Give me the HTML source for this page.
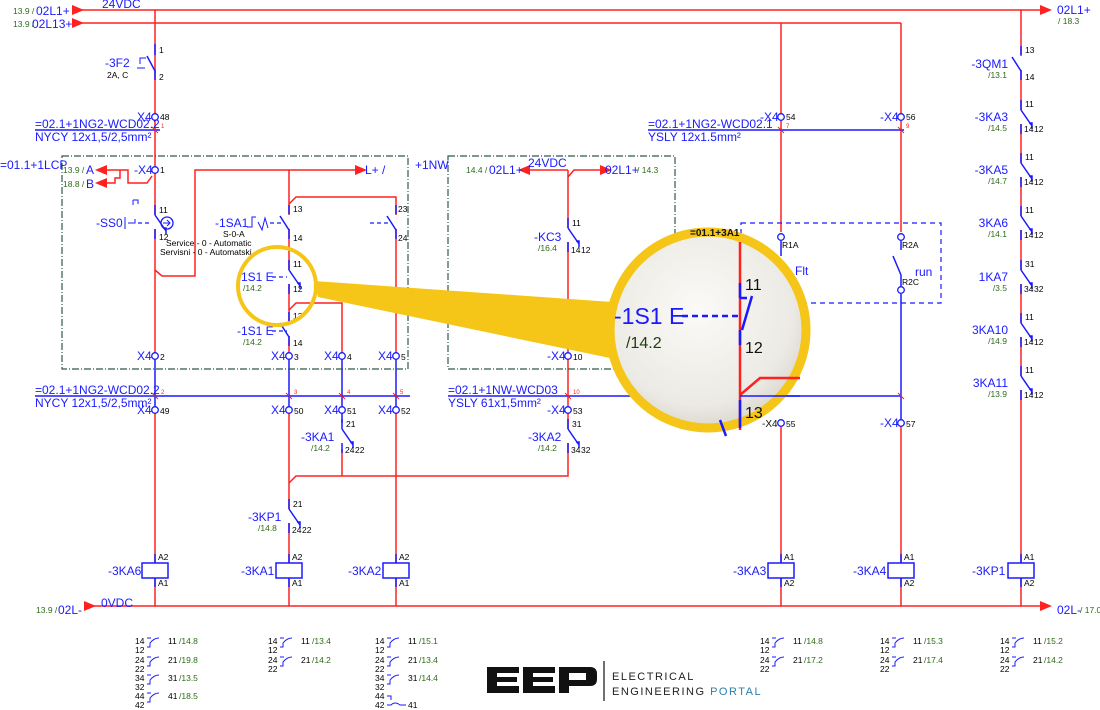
<!DOCTYPE html>
<html><head><meta charset="utf-8"><style>
html,body{margin:0;padding:0;background:#fff;}
svg{display:block;font-family:"Liberation Sans",sans-serif;}
.b{fill:#1a1aff;font-size:12px;}
.k{fill:#000;font-size:8.5px;}
.g{fill:#2e6b1a;font-size:8.5px;}
.r{fill:#ff2020;font-size:6px;}
</style></head><body>
<svg width="1100" height="710" viewBox="0 0 1100 710" xmlns="http://www.w3.org/2000/svg">
<defs>
<g id="nc" fill="none"><path d="M0,10V24" stroke="#fff" stroke-width="4"/><path d="M0,0V10M0,10L11,26M8,23H11V29M0,24V34" stroke="#1a1aff" stroke-width="1.5"/></g>
<g id="no" fill="none"><path d="M0,10V24" stroke="#fff" stroke-width="4"/><path d="M0,0V9M-9,11L0,25M0,24V34" stroke="#1a1aff" stroke-width="1.5"/></g>
<g id="coil"><rect x="-13" y="0" width="26" height="15" fill="#fff" stroke="#1a1aff" stroke-width="1.5"/><path d="M0,-9V0M0,15V24" stroke="#1a1aff" stroke-width="1.5"/></g>
<g id="term"><circle r="3.3" fill="#fff" stroke="#1a1aff" stroke-width="1.3"/></g>
<g id="sym" fill="none" stroke="#1a1aff" stroke-width="1"><path d="M12,-3H16M12,6H15V2Q19,-3 24,-3"/></g>
<radialGradient id="mg" cx="45%" cy="40%" r="60%"><stop offset="0" stop-color="#fbfaf7"/><stop offset="0.8" stop-color="#eceae4"/><stop offset="1" stop-color="#dcd9d0"/></radialGradient>
</defs>

<g stroke="#ff2020" stroke-width="1.5" fill="none">
<path d="M80,10H1040"/><path d="M80,23H901"/>
<path d="M155,10V356"/><path d="M1021,10V606"/>
<path d="M781,23V232"/><path d="M901,23V232"/>
<path d="M152,176L147,183H128V170H107M120,170V178H115V183H107"/>
<path d="M155,270L162,276H195V170H362"/>
<path d="M289,170V356"/><path d="M289,204L296,197H396V356"/>
<path d="M289,310L296,303H342V356"/>
<path d="M155,410V606"/><path d="M289,410V606"/><path d="M396,410V606"/>
<path d="M342,449V476"/><path d="M289,483L296,476H568V170"/>
<path d="M781,423V606"/><path d="M901,423V606"/>
<path d="M85,606H1040"/>
<path d="M568,177L574,170H600"/><path d="M530,170H568"/>
</g>
<g fill="#ff2020">
<path d="M72,5L84,10L72,15Z"/><path d="M72,18L84,23L72,28Z"/>
<path d="M1040,5L1052,10L1040,15Z"/><path d="M1040,601L1052,606L1040,611Z"/>
<path d="M84,601L96,606L84,611Z"/>
<path d="M107,165L95,170L107,175Z"/><path d="M107,178L95,183L107,188Z"/>
<path d="M355,165L367,170L355,175Z"/>
<path d="M530,165L518,170L530,175Z"/><path d="M600,165L612,170L600,175Z"/>
</g>
<g stroke="#1a1aff" stroke-width="1.5" fill="none">
<path d="M35,130H160"/><path d="M648,130H904"/>
<path d="M35,396H410"/><path d="M448,396H570"/><path d="M570,396H901"/>
<path d="M155,356V410M289,356V410M342,356V423M396,356V410"/>
<path d="M901,294V423"/><path d="M781,241V256"/>
<path d="M901,241V250M893,256L901,275M901,275V286"/>
<path d="M155,44V55M147,56L155,71M155,70V80"/>
<path d="M140,64V58H146M137,68H145" stroke-width="1"/>
</g>
<g stroke="#ff2020" stroke-width="1"><path d="M152,127L158,133M286,393L292,399M339,393L345,399M393,393L399,399M152,393L158,399M565,393L571,399M778,127L784,133M898,127L904,133M898,393L904,399"/></g>
<rect x="62" y="156" width="346" height="213" fill="none" stroke="#2f5a4a" stroke-width="1.2" stroke-dasharray="7 2 1 2"/>
<rect x="448" y="156" width="227" height="213" fill="none" stroke="#2f5a4a" stroke-width="1.2" stroke-dasharray="7 2 1 2"/>
<rect x="741" y="223" width="200" height="80" fill="none" stroke="#1a1aff" stroke-width="1.2" stroke-dasharray="5 4"/>

<use href="#nc" x="155" y="205"/>
<use href="#no" x="289" y="205"/><use href="#no" x="396" y="205"/>
<use href="#nc" x="289" y="260"/><use href="#no" x="289" y="312"/>
<use href="#nc" x="342" y="419"/><use href="#nc" x="289" y="499"/>
<use href="#nc" x="568" y="218"/><use href="#nc" x="568" y="419"/>
<use href="#no" x="1021" y="46"/>
<use href="#nc" x="1021" y="100"/><use href="#nc" x="1021" y="153"/><use href="#nc" x="1021" y="206"/>
<use href="#nc" x="1021" y="260"/><use href="#nc" x="1021" y="313"/><use href="#nc" x="1021" y="366"/>
<g stroke="#1a1aff" stroke-width="1.2" fill="none" stroke-dasharray="4 3"><path d="M138,223H152M270,223H284M370,223H392M272,277H287M272,331H287"/></g>
<circle cx="167" cy="223" r="6" fill="none" stroke="#1a1aff" stroke-width="1.3"/><path d="M163,223H170M167,220L170,223L167,226" stroke="#1a1aff" fill="none"/>
<path d="M125,217V229M128,223H135V219M133,200V205M133,200H138V204" stroke="#1a1aff" fill="none"/>
<path d="M247,227H252V217H256M258,222L262,230L265,218L268,228" stroke="#1a1aff" fill="none"/>

<g>
<use href="#term" x="155" y="117"/><use href="#term" x="155" y="170"/>
<use href="#term" x="155" y="356"/><use href="#term" x="289" y="356"/><use href="#term" x="342" y="356"/><use href="#term" x="396" y="356"/>
<use href="#term" x="155" y="410"/><use href="#term" x="289" y="410"/><use href="#term" x="342" y="410"/><use href="#term" x="396" y="410"/>
<use href="#term" x="568" y="356"/><use href="#term" x="568" y="410"/>
<use href="#term" x="781" y="117"/><use href="#term" x="901" y="117"/>
<use href="#term" x="781" y="237"/><use href="#term" x="901" y="237"/><use href="#term" x="901" y="290"/>
<use href="#term" x="781" y="423"/><use href="#term" x="901" y="423"/>
</g>
<use href="#coil" x="155" y="563"/><use href="#coil" x="289" y="563"/><use href="#coil" x="396" y="563"/>
<use href="#coil" x="781" y="563"/><use href="#coil" x="901" y="563"/><use href="#coil" x="1021" y="563"/>

<text x="13" y="14" class="g">13.9 /</text><text x="36" y="15" class="b">02L1+</text>
<text x="13" y="27" class="g">13.9 /</text><text x="32" y="28" class="b">02L13+</text>
<text x="102" y="8" class="b">24VDC</text>
<text x="1057" y="14" class="b">02L1+</text><text x="1058" y="24" class="g">/ 18.3</text>
<text x="159" y="53" class="k">1</text><text x="159" y="80" class="k">2</text>
<text x="105" y="67" class="b">-3F2</text><text x="107" y="78" class="k">2A, C</text>
<text x="137" y="121" class="b">X4</text><text x="160" y="120" class="k">48</text><text x="161" y="128" class="r">1</text>
<text x="35" y="128" class="b">=02.1+1NG2-WCD02.2</text><text x="35" y="141" class="b">NYCY 12x1,5/2,5mm²</text>
<text x="0" y="169" class="b">=01.1+1LCP</text><text x="415" y="169" class="b">+1NW</text>
<text x="63" y="173" class="g">13.9 /</text><text x="86" y="174" class="b">A</text>
<text x="63" y="187" class="g">18.8 /</text><text x="86" y="188" class="b">B</text>
<text x="134" y="174" class="b">-X4</text><text x="160" y="173" class="k">1</text>
<text x="365" y="174" class="b">L+ /</text>
<text x="159" y="213" class="k">11</text><text x="159" y="240" class="k">12</text>
<text x="96" y="227" class="b">-SS0</text>
<text x="215" y="227" class="b">-1SA1</text><text x="223" y="237" class="k">S-0-A</text>
<text x="166" y="246" class="k">Service - 0 - Automatic</text><text x="160" y="255" class="k">Servisni - 0 - Automatski</text>
<text x="293" y="212" class="k">13</text><text x="293" y="241" class="k">14</text>
<text x="398" y="212" class="k">23</text><text x="398" y="241" class="k">24</text>
<text x="293" y="267" class="k">11</text><text x="293" y="292" class="k">12</text>
<text x="293" y="319" class="k">13</text><text x="293" y="346" class="k">14</text>
<text x="237" y="281" class="b">-1S1 E</text><text x="243" y="291" class="g">/14.2</text>
<text x="237" y="335" class="b">-1S1 E</text><text x="243" y="345" class="g">/14.2</text>
<text x="137" y="360" class="b">X4</text><text x="160" y="360" class="k">2</text>
<text x="271" y="360" class="b">X4</text><text x="294" y="360" class="k">3</text>
<text x="324" y="360" class="b">X4</text><text x="347" y="360" class="k">4</text>
<text x="378" y="360" class="b">X4</text><text x="401" y="360" class="k">5</text>
<text x="35" y="394" class="b">=02.1+1NG2-WCD02.2</text><text x="35" y="407" class="b">NYCY 12x1,5/2,5mm²</text>
<text x="161" y="394" class="r">2</text><text x="294" y="394" class="r">3</text><text x="347" y="394" class="r">4</text><text x="400" y="394" class="r">5</text>
<text x="137" y="414" class="b">X4</text><text x="160" y="414" class="k">49</text>
<text x="271" y="414" class="b">X4</text><text x="294" y="414" class="k">50</text>
<text x="324" y="414" class="b">X4</text><text x="347" y="414" class="k">51</text>
<text x="378" y="414" class="b">X4</text><text x="401" y="414" class="k">52</text>
<text x="346" y="427" class="k">21</text><text x="345" y="453" class="k">24</text><text x="355" y="453" class="k">22</text>
<text x="301" y="441" class="b">-3KA1</text><text x="311" y="451" class="g">/14.2</text>
<text x="293" y="507" class="k">21</text><text x="292" y="533" class="k">24</text><text x="302" y="533" class="k">22</text>
<text x="248" y="521" class="b">-3KP1</text><text x="258" y="531" class="g">/14.8</text>
<text x="158" y="560" class="k">A2</text><text x="158" y="586" class="k">A1</text><text x="108" y="575" class="b">-3KA6</text>
<text x="292" y="560" class="k">A2</text><text x="292" y="586" class="k">A1</text><text x="241" y="575" class="b">-3KA1</text>
<text x="399" y="560" class="k">A2</text><text x="399" y="586" class="k">A1</text><text x="348" y="575" class="b">-3KA2</text>
<text x="36" y="613" class="g">13.9 /</text><text x="58" y="614" class="b">02L-</text><text x="101" y="607" class="b">0VDC</text>
<text x="1057" y="614" class="b">02L-</text><text x="1080" y="613" class="g">/ 17.0</text>
<text x="466" y="173" class="g">14.4 /</text><text x="489" y="174" class="b">02L1+</text>
<text x="528" y="167" class="b">24VDC</text>
<text x="605" y="174" class="b">02L1+</text><text x="637" y="173" class="g">/ 14.3</text>
<text x="572" y="226" class="k">11</text><text x="571" y="253" class="k">14</text><text x="581" y="253" class="k">12</text>
<text x="534" y="241" class="b">-KC3</text><text x="538" y="251" class="g">/16.4</text>
<text x="547" y="360" class="b">-X4</text><text x="573" y="360" class="k">10</text>
<text x="448" y="394" class="b">=02.1+1NW-WCD03</text><text x="448" y="407" class="b">YSLY 61x1,5mm²</text><text x="573" y="394" class="r">10</text>
<text x="547" y="414" class="b">-X4</text><text x="573" y="414" class="k">53</text>
<text x="572" y="427" class="k">31</text><text x="571" y="453" class="k">34</text><text x="581" y="453" class="k">32</text>
<text x="528" y="441" class="b">-3KA2</text><text x="538" y="451" class="g">/14.2</text>
<text x="648" y="128" class="b">=02.1+1NG2-WCD02.1</text><text x="648" y="141" class="b">YSLY 12x1.5mm²</text>
<text x="760" y="121" class="b">-X4</text><text x="786" y="120" class="k">54</text><text x="786" y="128" class="r">7</text>
<text x="880" y="121" class="b">-X4</text><text x="906" y="120" class="k">56</text><text x="906" y="128" class="r">9</text>
<text x="782" y="248" class="k">R1A</text><text x="902" y="248" class="k">R2A</text><text x="902" y="285" class="k">R2C</text>
<text x="795" y="275" class="b">Flt</text><text x="915" y="276" class="b">run</text>
<text x="880" y="427" class="b">-X4</text><text x="906" y="427" class="k">57</text>
<text x="784" y="560" class="k">A1</text><text x="784" y="586" class="k">A2</text><text x="733" y="575" class="b">-3KA3</text>
<text x="904" y="560" class="k">A1</text><text x="904" y="586" class="k">A2</text><text x="853" y="575" class="b">-3KA4</text>
<text x="1024" y="560" class="k">A1</text><text x="1024" y="586" class="k">A2</text><text x="972" y="575" class="b">-3KP1</text>
<g text-anchor="end">
<text x="1008" y="68" class="b">-3QM1</text><text x="1007" y="78" class="g">/13.1</text>
<text x="1008" y="121" class="b">-3KA3</text><text x="1007" y="131" class="g">/14.5</text>
<text x="1008" y="174" class="b">-3KA5</text><text x="1007" y="184" class="g">/14.7</text>
<text x="1008" y="227" class="b">3KA6</text><text x="1007" y="237" class="g">/14.1</text>
<text x="1008" y="281" class="b">1KA7</text><text x="1007" y="291" class="g">/3.5</text>
<text x="1008" y="334" class="b">3KA10</text><text x="1007" y="344" class="g">/14.9</text>
<text x="1008" y="387" class="b">3KA11</text><text x="1007" y="397" class="g">/13.9</text>
</g>
<g class="k">
<text x="1025" y="53">13</text><text x="1025" y="80">14</text>
<text x="1025" y="107">11</text><text x="1024" y="132">14</text><text x="1034" y="132">12</text>
<text x="1025" y="160">11</text><text x="1024" y="185">14</text><text x="1034" y="185">12</text>
<text x="1025" y="213">11</text><text x="1024" y="238">14</text><text x="1034" y="238">12</text>
<text x="1025" y="267">31</text><text x="1024" y="292">34</text><text x="1034" y="292">32</text>
<text x="1025" y="320">11</text><text x="1024" y="345">14</text><text x="1034" y="345">12</text>
<text x="1025" y="373">11</text><text x="1024" y="398">14</text><text x="1034" y="398">12</text>
</g>

<g class="k">
<text x="135" y="644">14</text><text x="135" y="653">12</text><text x="135" y="663">24</text><text x="135" y="672">22</text>
<text x="135" y="681">34</text><text x="135" y="690">32</text><text x="135" y="699">44</text><text x="135" y="708">42</text>
<text x="168" y="644">11</text><text x="168" y="663">21</text><text x="168" y="681">31</text><text x="168" y="699">41</text>
<text x="268" y="644">14</text><text x="268" y="653">12</text><text x="268" y="663">24</text><text x="268" y="672">22</text>
<text x="301" y="644">11</text><text x="301" y="663">21</text>
<text x="375" y="644">14</text><text x="375" y="653">12</text><text x="375" y="663">24</text><text x="375" y="672">22</text>
<text x="375" y="681">34</text><text x="375" y="690">32</text><text x="375" y="699">44</text><text x="375" y="708">42</text>
<text x="408" y="644">11</text><text x="408" y="663">21</text><text x="408" y="681">31</text><text x="408" y="708">41</text>
<text x="760" y="644">14</text><text x="760" y="653">12</text><text x="760" y="663">24</text><text x="760" y="672">22</text>
<text x="793" y="644">11</text><text x="793" y="663">21</text>
<text x="880" y="644">14</text><text x="880" y="653">12</text><text x="880" y="663">24</text><text x="880" y="672">22</text>
<text x="913" y="644">11</text><text x="913" y="663">21</text>
<text x="1000" y="644">14</text><text x="1000" y="653">12</text><text x="1000" y="663">24</text><text x="1000" y="672">22</text>
<text x="1033" y="644">11</text><text x="1033" y="663">21</text>
</g>
<g class="g">
<text x="179" y="644">/14.8</text><text x="179" y="663">/19.8</text><text x="179" y="681">/13.5</text><text x="179" y="699">/18.5</text>
<text x="312" y="644">/13.4</text><text x="312" y="663">/14.2</text>
<text x="419" y="644">/15.1</text><text x="419" y="663">/13.4</text><text x="419" y="681">/14.4</text>
<text x="804" y="644">/14.8</text><text x="804" y="663">/17.2</text>
<text x="924" y="644">/15.3</text><text x="924" y="663">/17.4</text>
<text x="1044" y="644">/15.2</text><text x="1044" y="663">/14.2</text>
</g>
<g>
<use href="#sym" x="135" y="641"/><use href="#sym" x="135" y="660"/><use href="#sym" x="135" y="678"/><use href="#sym" x="135" y="696"/>
<use href="#sym" x="268" y="641"/><use href="#sym" x="268" y="660"/>
<use href="#sym" x="375" y="641"/><use href="#sym" x="375" y="660"/><use href="#sym" x="375" y="678"/>
<use href="#sym" x="760" y="641"/><use href="#sym" x="760" y="660"/>
<use href="#sym" x="880" y="641"/><use href="#sym" x="880" y="660"/>
<use href="#sym" x="1000" y="641"/><use href="#sym" x="1000" y="660"/>
</g>
<path d="M387,696H391V700M387,705H391Q395,701 400,705H406" stroke="#1a1aff" fill="none"/>

<g fill="#111">
<path d="M487,667H519V673H497V677H517V682H497V686H519V693H487Z"/>
<path d="M523,667H555V673H533V677H553V682H533V686H555V693H523Z"/>
<path d="M559,667H590Q597,667 597,674V679Q597,686 590,686H569V693H559ZM569,673V680H586V673Z"/>
</g>
<path d="M604,661V701" stroke="#111" stroke-width="1.2"/>
<text x="612" y="680" style="font-size:11px;fill:#222;letter-spacing:1.5px">ELECTRICAL</text>
<text x="612" y="695" style="font-size:11px;fill:#222;letter-spacing:1.5px">ENGINEERING <tspan fill="#2a7fa8">PORTAL</tspan></text>

<polygon points="314,281 318,297 610,358 612,302" fill="#f5c518"/>
<circle cx="277" cy="286" r="39" fill="none" stroke="#f5c518" stroke-width="4"/>
<circle cx="708" cy="330" r="98" fill="url(#mg)" stroke="#f5c518" stroke-width="9"/>
<text x="690" y="236" style="font-size:10px;font-weight:bold;fill:#111">=01.1+3A1</text>
<g stroke-width="2.5" fill="none">
<path d="M740,242V430" stroke="#ff2020"/>
<path d="M740,283V298M740,298H747M752,296L742,330M740,330V345M740,400V428" stroke="#1a1aff"/>
<path d="M740,395L760,378H800" stroke="#ff2020"/>
<path d="M720,420L726,436" stroke="#1a1aff"/>
<path d="M682,316H740" stroke="#1a1aff" stroke-dasharray="6 4"/>
<path d="M740,396H800" stroke="#1a1aff" stroke-width="1.5"/>
</g>
<text x="745" y="290" style="font-size:16px;fill:#111">11</text>
<text x="745" y="353" style="font-size:16px;fill:#111">12</text>
<text x="745" y="418" style="font-size:16px;fill:#111">13</text>
<text x="614" y="324" style="font-size:23px;fill:#1a1aff">-1S1 E</text>
<text x="626" y="348" style="font-size:16px;fill:#1f3d10">/14.2</text>
<text x="762" y="427" style="font-size:10px;fill:#111">-X4</text><text x="786" y="427" class="k">55</text>
</svg>
</body></html>
